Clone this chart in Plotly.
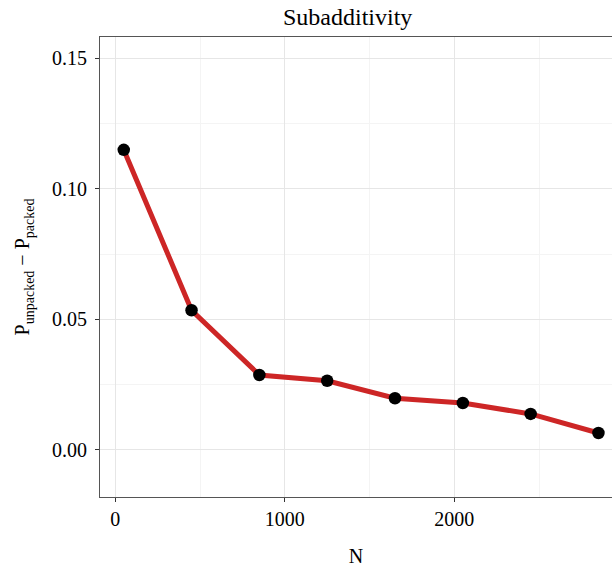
import plotly.graph_objects as go

n_values = [50, 450, 850, 1250, 1650, 2050, 2450, 2850]
diff_values = [0.1149, 0.0535, 0.0287, 0.0265, 0.0198, 0.0180, 0.0138, 0.0065]
x_ticks = [0, 1000, 2000]
y_ticks = [0.00, 0.05, 0.10, 0.15]

font_family = "Liberation Serif, Times New Roman, serif"

fig = go.Figure()
fig.add_trace(go.Scatter(
    x=n_values, y=diff_values, mode="lines",
    line=dict(color="#CD2626", width=5),
    hoverinfo="skip", showlegend=False,
))
fig.add_trace(go.Scatter(
    x=n_values, y=diff_values, mode="markers",
    marker=dict(color="black", size=12.5),
    showlegend=False,
))

fig.update_layout(
    width=612, height=567,
    margin=dict(l=100, r=0, t=37, b=70),
    paper_bgcolor="white", plot_bgcolor="white",
    font=dict(family=font_family, color="black", size=20),
    annotations=[dict(
        text="Subadditivity", xref="paper", yref="paper",
        x=0.484, y=1, yshift=5, xanchor="center", yanchor="bottom",
        showarrow=False, font=dict(size=24, family=font_family, color="black"),
    )],
)
fig.update_xaxes(
    range=[-90, 2930], tickvals=x_ticks, ticktext=[str(v) for v in x_ticks],
    showgrid=True, gridcolor="#e6e6e6", gridwidth=1,
    minor=dict(tickvals=[500, 1500, 2500], showgrid=True, gridcolor="#f4f4f4", gridwidth=1, ticks=""),
    ticks="outside", ticklen=4, tickcolor="#333333", tickwidth=1,
    showline=True, linecolor="#555555", linewidth=1.2, mirror=True,
    zeroline=False,
    tickfont=dict(size=20),
    title=dict(text="N", font=dict(size=20), standoff=22),
)
fig.update_yaxes(
    range=[-0.0180, 0.1581], tickvals=y_ticks, ticktext=["%.2f" % v for v in y_ticks],
    showgrid=True, gridcolor="#e6e6e6", gridwidth=1,
    minor=dict(tickvals=[0.025, 0.075, 0.125], showgrid=True, gridcolor="#f4f4f4", gridwidth=1, ticks=""),
    ticks="outside", ticklen=4, tickcolor="#333333", tickwidth=1,
    showline=True, linecolor="#555555", linewidth=1.2, mirror=True,
    zeroline=False,
    tickfont=dict(size=20), ticklabelstandoff=4,
    title=dict(text="P<sub>unpacked</sub> \u2212 P<sub>packed</sub>", font=dict(size=20), standoff=16),
)

fig.write_html("out.html")
